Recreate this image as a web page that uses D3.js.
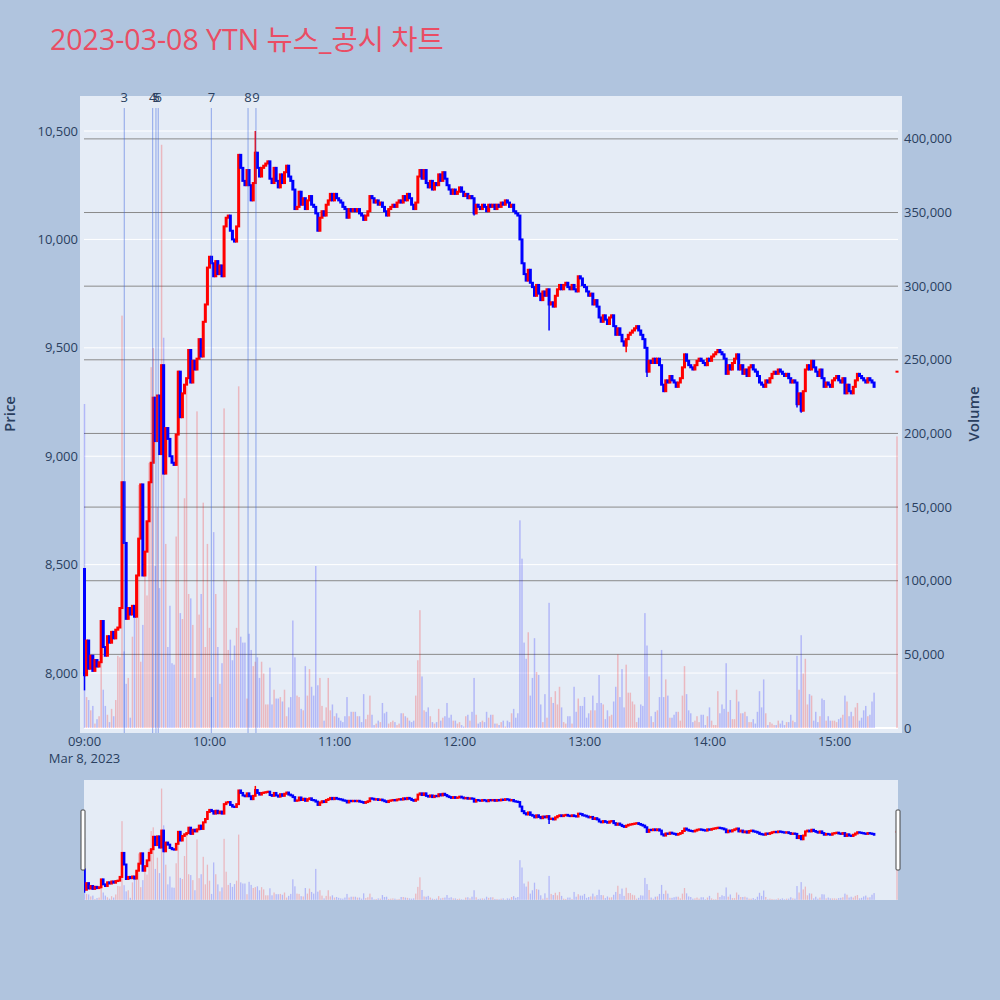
<!DOCTYPE html>
<html>
<head>
<meta charset="utf-8">
<script src="https://cdn.jsdelivr.net/npm/d3@7"></script>
<style>
  body { margin: 0; background: #b0c4de; }
  svg { display: block; font-family: "Open Sans", "Noto Sans CJK KR", sans-serif; }
</style>
</head>
<body>
<div id="chart"></div>
<script>
// 1-minute candles from 09:00, closes (won)
const firstOpen = 8480;
const closes = [
  7990, 8150, 8020, 8080, 8010, 8060, 8030, 8050, 8240, 8120,
  8080, 8170, 8140, 8190, 8160, 8200, 8210, 8300, 8880, 8600,
  8250, 8300, 8270, 8310, 8260, 8450, 8620, 8870, 8450, 8560,
  8700, 8880, 8970, 9270, 9070, 9280, 9010, 9420, 8920, 9130,
  9080, 9000, 8970, 8960, 9100, 9390, 9180, 9290, 9330, 9360,
  9490, 9340, 9440, 9400, 9450, 9540, 9460, 9620, 9700, 9870,
  9920, 9890, 9830, 9900, 9840, 9880, 9830, 10060, 10100, 10110,
  10040, 10000, 9990, 10060, 10390, 10330, 10270, 10250, 10320, 10250,
  10180, 10260, 10400, 10330, 10290, 10330, 10340, 10350, 10360, 10280,
  10260, 10330, 10270, 10240, 10300, 10260, 10310, 10340, 10290, 10270,
  10230, 10140, 10150, 10220, 10160, 10190, 10140, 10180, 10200, 10160,
  10150, 10120, 10040, 10100, 10130, 10110, 10160, 10180, 10210, 10180,
  10210, 10190, 10180, 10170, 10150, 10140, 10100, 10140, 10130, 10140,
  10130, 10140, 10120, 10110, 10090, 10110, 10130, 10200, 10190, 10170,
  10180, 10160, 10170, 10150, 10130, 10110, 10140, 10150, 10160, 10150,
  10170, 10180, 10170, 10200, 10180, 10210, 10190, 10160, 10140, 10170,
  10290, 10320, 10280, 10320, 10260, 10240, 10270, 10230, 10260, 10250,
  10300, 10270, 10310, 10280, 10250, 10230, 10210, 10230, 10210, 10220,
  10240, 10220, 10200, 10210, 10190, 10200, 10190, 10120, 10160, 10150,
  10140, 10160, 10150, 10130, 10160, 10150, 10160, 10140, 10160, 10150,
  10170, 10160, 10180, 10170, 10150, 10160, 10130, 10120, 10110, 10000,
  9890, 9840, 9810, 9860, 9800, 9780, 9740, 9790, 9750, 9720,
  9760, 9740, 9770, 9700, 9710, 9690, 9740, 9770, 9790, 9770,
  9790, 9800, 9780, 9770, 9790, 9770, 9760, 9830, 9820, 9790,
  9780, 9760, 9740, 9750, 9700, 9720, 9690, 9640, 9620, 9650,
  9630, 9610, 9640, 9650, 9600, 9560, 9590, 9560, 9530, 9510,
  9540, 9560, 9570, 9580, 9590, 9600, 9580, 9560, 9540, 9500,
  9390, 9440, 9430, 9450, 9430, 9450, 9420, 9330, 9300, 9350,
  9340, 9370, 9350, 9340, 9320, 9340, 9360, 9410, 9470, 9440,
  9420, 9410, 9400, 9420, 9440, 9450, 9440, 9430, 9420, 9450,
  9440, 9460, 9470, 9480, 9490, 9480, 9470, 9450, 9380, 9420,
  9400, 9430, 9450, 9470, 9400, 9420, 9380, 9400, 9370, 9410,
  9420, 9400, 9390, 9370, 9340, 9330, 9320, 9350, 9340, 9360,
  9380, 9390, 9380, 9400, 9390, 9380, 9370, 9380, 9360, 9340,
  9350, 9340, 9240, 9290, 9210, 9300, 9400, 9420, 9400, 9440,
  9410, 9390, 9370, 9400, 9360, 9320, 9340, 9330, 9320, 9350,
  9360, 9370, 9350, 9340, 9360, 9290, 9330, 9300, 9290, 9320,
  9350, 9380, 9370, 9360, 9350, 9340, 9360, 9350, 9340, 9320
];
// volume per minute, thousand shares
const volumeK = [
  220, 21, 19, 12, 15, 3, 6, 8, 45, 26,
  15, 9, 4, 13, 8, 19, 49, 48, 280, 52,
  30, 34, 7, 62, 78, 77, 165, 45, 70, 120,
  90, 180, 245, 258, 110, 150, 95, 396, 265, 125,
  55, 83, 44, 43, 130, 243, 78, 74, 156, 232,
  91, 88, 70, 34, 215, 77, 91, 153, 55, 125,
  68, 21, 133, 91, 55, 30, 44, 217, 100, 53,
  60, 46, 56, 68, 232, 62, 58, 58, 20, 64,
  53, 42, 45, 48, 34, 45, 37, 16, 16, 41,
  16, 26, 20, 20, 21, 18, 26, 8, 14, 21,
  73, 48, 22, 21, 13, 12, 42, 22, 40, 28,
  22, 110, 29, 34, 15, 5, 14, 34, 12, 16,
  8, 10, 7, 5, 4, 8, 21, 8, 11, 11,
  11, 8, 8, 4, 23, 6, 9, 22, 9, 2,
  3, 5, 4, 17, 10, 11, 3, 4, 5, 4,
  2, 3, 10, 10, 8, 7, 5, 4, 5, 22,
  46, 80, 35, 12, 11, 14, 8, 4, 3, 4,
  13, 5, 7, 8, 17, 7, 9, 5, 5, 3,
  4, 2, 1, 8, 9, 5, 11, 34, 9, 3,
  4, 5, 4, 11, 7, 9, 9, 3, 3, 2,
  4, 5, 1, 5, 4, 10, 13, 7, 10, 141,
  115, 58, 47, 65, 22, 34, 61, 38, 36, 16,
  4, 23, 7, 85, 21, 17, 25, 16, 28, 14,
  4, 3, 8, 8, 3, 28, 11, 20, 15, 15,
  21, 7, 10, 12, 22, 12, 17, 36, 17, 16,
  6, 12, 8, 9, 18, 28, 50, 21, 40, 14,
  43, 24, 24, 18, 16, 4, 7, 16, 15, 78,
  56, 35, 8, 4, 11, 12, 21, 53, 21, 33,
  22, 7, 7, 9, 11, 11, 5, 22, 42, 23,
  12, 10, 4, 5, 8, 4, 9, 9, 2, 8,
  14, 5, 2, 2, 25, 10, 16, 13, 44, 11,
  19, 6, 6, 26, 18, 10, 10, 11, 8, 4,
  4, 6, 3, 11, 25, 14, 33, 10, 2, 4,
  3, 2, 2, 5, 3, 5, 2, 4, 4, 9,
  5, 4, 49, 26, 63, 37, 47, 16, 23, 22,
  5, 11, 4, 8, 20, 19, 5, 8, 5, 5,
  5, 4, 6, 7, 9, 22, 18, 8, 11, 8,
  14, 17, 5, 7, 12, 15, 8, 9, 18, 24
];
// wicks that stick out of the bodies: [minute, price]
const wickHighs = [[82, 10500], [18, 8880]];
const wickLows = [[0, 7920], [187, 10110], [223, 9580], [260, 9480], [270, 9365], [342, 9225], [344, 9200]];
// closing auction at 15:30
const auctionMinute = 390;
const auctionPrice = 9390;
const auctionVolumeK = 198;
// news / disclosure markers
const newsLabels = ["3", "4", "5", "6", "7", "8", "9"];
const newsMinutes = [19.1, 32.7, 34.3, 35.4, 60.9, 78.5, 82.3];

const priceTicks = [8000, 8500, 9000, 9500, 10000, 10500];
const volumeTicks = [0, 50000, 100000, 150000, 200000, 250000, 300000, 350000, 400000];

const UP = "#ff0000", DOWN = "#0000ff";
const startTime = new Date(2023, 2, 8, 9, 0);
const atMinute = m => new Date(startTime.getTime() + m * 60000);

// build candles
var candles = closes.map(function (c, i) {
    var o = i === 0 ? firstOpen : closes[i - 1];
    return {t: atMinute(i), open: o, close: c, high: Math.max(o, c), low: Math.min(o, c), volume: volumeK[i] * 1000};
});
wickHighs.forEach(function (w) { candles[w[0]].high = Math.max(candles[w[0]].high, w[1]); });
wickLows.forEach(function (w) { candles[w[0]].low = Math.min(candles[w[0]].low, w[1]); });
candles.push({t: atMinute(auctionMinute), open: auctionPrice, close: auctionPrice,
    high: auctionPrice, low: auctionPrice, volume: auctionVolumeK * 1000});
const colorOf = d => d.close >= d.open ? UP : DOWN;

var svg = d3.select("#chart").append("svg")
    .attr("width", 1000)
    .attr("height", 1000);

svg.append("rect").attr("width", 1000).attr("height", 1000).attr("fill", "#b0c4de");

// title
svg.append("text")
    .attr("x", 50).attr("y", 50)
    .attr("fill", "#ea4d64")
    .style("font-size", "28.5px")
    .text("2023-03-08 YTN 뉴스_공시 차트");

// scales
var x = d3.scaleTime().domain([atMinute(0), atMinute(390)]).range([84.5, 897]);
var yPrice = d3.scaleLinear().domain([7742, 10643]).range([729, 100]);
var yVol = d3.scaleLinear().domain([0, 426400]).range([728, 100]);
var ySlidePrice = yPrice.copy().range([900, 780]);
var ySlideVol = yVol.copy().range([899.8, 780]);

// plot background
svg.append("rect").attr("x", 80).attr("y", 96).attr("width", 822).attr("height", 637).attr("fill", "#e5ecf6");

// price grid (white) and volume grid (gray)
var grid = svg.append("g");
grid.selectAll(".pg").data(priceTicks).enter().append("line")
    .attr("x1", 84).attr("x2", 898)
    .attr("y1", d => yPrice(d)).attr("y2", d => yPrice(d))
    .attr("stroke", "#ffffff").attr("stroke-width", 1);
grid.selectAll(".vg").data(volumeTicks).enter().append("line")
    .attr("x1", 84).attr("x2", 898)
    .attr("y1", d => yVol(d)).attr("y2", d => yVol(d))
    .attr("stroke", d => d === 0 ? "#ffffff" : "#8a8a8a")
    .attr("stroke-width", d => d === 0 ? 2 : 1);

function drawVolume(g, yv, w) {
    g.selectAll(".vbar").data(candles).enter().append("rect")
        .attr("x", d => x(d.t) - w / 2)
        .attr("width", w)
        .attr("y", d => yv(d.volume))
        .attr("height", d => yv(0) - yv(d.volume))
        .attr("fill", colorOf)
        .attr("fill-opacity", 0.22);
}

function drawCandles(g, yp, bw, ww) {
    var c = g.selectAll(".candle").data(candles).enter().append("g");
    c.append("line")
        .attr("x1", d => x(d.t)).attr("x2", d => x(d.t))
        .attr("y1", d => yp(d.high)).attr("y2", d => yp(d.low))
        .attr("stroke", colorOf).attr("stroke-width", ww);
    c.append("rect")
        .attr("x", d => x(d.t) - bw / 2)
        .attr("width", bw)
        .attr("y", d => Math.min(yp(d.open), yp(d.close)) - 1)
        .attr("height", d => Math.abs(yp(d.open) - yp(d.close)) + 2)
        .attr("fill", colorOf);
}

var main = svg.append("g");
drawVolume(main, yVol, 1.5);
drawCandles(main, yPrice, 3, 1.5);

// news lines + labels
var news = svg.append("g");
news.selectAll("line").data(newsMinutes).enter().append("line")
    .attr("x1", d => x(atMinute(d))).attr("x2", d => x(atMinute(d)))
    .attr("y1", 108).attr("y2", 733)
    .attr("stroke", "rgba(65,105,225,0.45)").attr("stroke-width", 1.2);
news.selectAll("text").data(newsLabels).enter().append("text")
    .attr("x", (d, i) => x(atMinute(newsMinutes[i])))
    .attr("y", 102)
    .attr("text-anchor", "middle")
    .attr("fill", "#2a3f5f")
    .style("font-size", "13px")
    .text(d => d);

// axes labels
var axes = svg.append("g").attr("fill", "#2a3f5f").style("font-size", "13px");
axes.selectAll(".pl").data(priceTicks).enter().append("text")
    .attr("x", 78).attr("y", d => yPrice(d) + 4.5)
    .attr("text-anchor", "end")
    .text(d3.format(","));
axes.selectAll(".vl").data(volumeTicks).enter().append("text")
    .attr("x", 904).attr("y", d => yVol(d) + 4.5)
    .text(d3.format(","));
var hours = d3.timeHour.range(atMinute(0), atMinute(361));
axes.selectAll(".xl").data(hours).enter().append("text")
    .attr("x", d => x(d)).attr("y", 746)
    .attr("text-anchor", "middle")
    .text(d3.timeFormat("%H:%M"));
axes.append("text").attr("x", x(atMinute(0))).attr("y", 763)
    .attr("text-anchor", "middle").text("Mar 8, 2023");

svg.append("text")
    .attr("transform", "translate(15,414) rotate(-90)")
    .attr("text-anchor", "middle")
    .attr("fill", "#2a3f5f")
    .style("font-size", "15px").style("font-weight", "600")
    .text("Price");
svg.append("text")
    .attr("transform", "translate(979,414) rotate(-90)")
    .attr("text-anchor", "middle")
    .attr("fill", "#2a3f5f")
    .style("font-size", "15px").style("font-weight", "600")
    .text("Volume");

// range slider
svg.append("rect").attr("x", 84).attr("y", 780).attr("width", 814).attr("height", 120).attr("fill", "#e5ecf6");
svg.append("clipPath").attr("id", "slideClip")
    .append("rect").attr("x", 84).attr("y", 780).attr("width", 814).attr("height", 120);
var slide = svg.append("g").attr("clip-path", "url(#slideClip)");
drawVolume(slide, ySlideVol, 1.3);
drawCandles(slide, ySlidePrice, 2.6, 1.5);

[83, 898].forEach(function (hx) {
    svg.append("rect")
        .attr("x", hx - 2).attr("y", 810).attr("width", 4).attr("height", 60)
        .attr("fill", "#ffffff").attr("stroke", "#444").attr("stroke-width", 1)
        .attr("rx", 1);
});
</script>
</body>
</html>
